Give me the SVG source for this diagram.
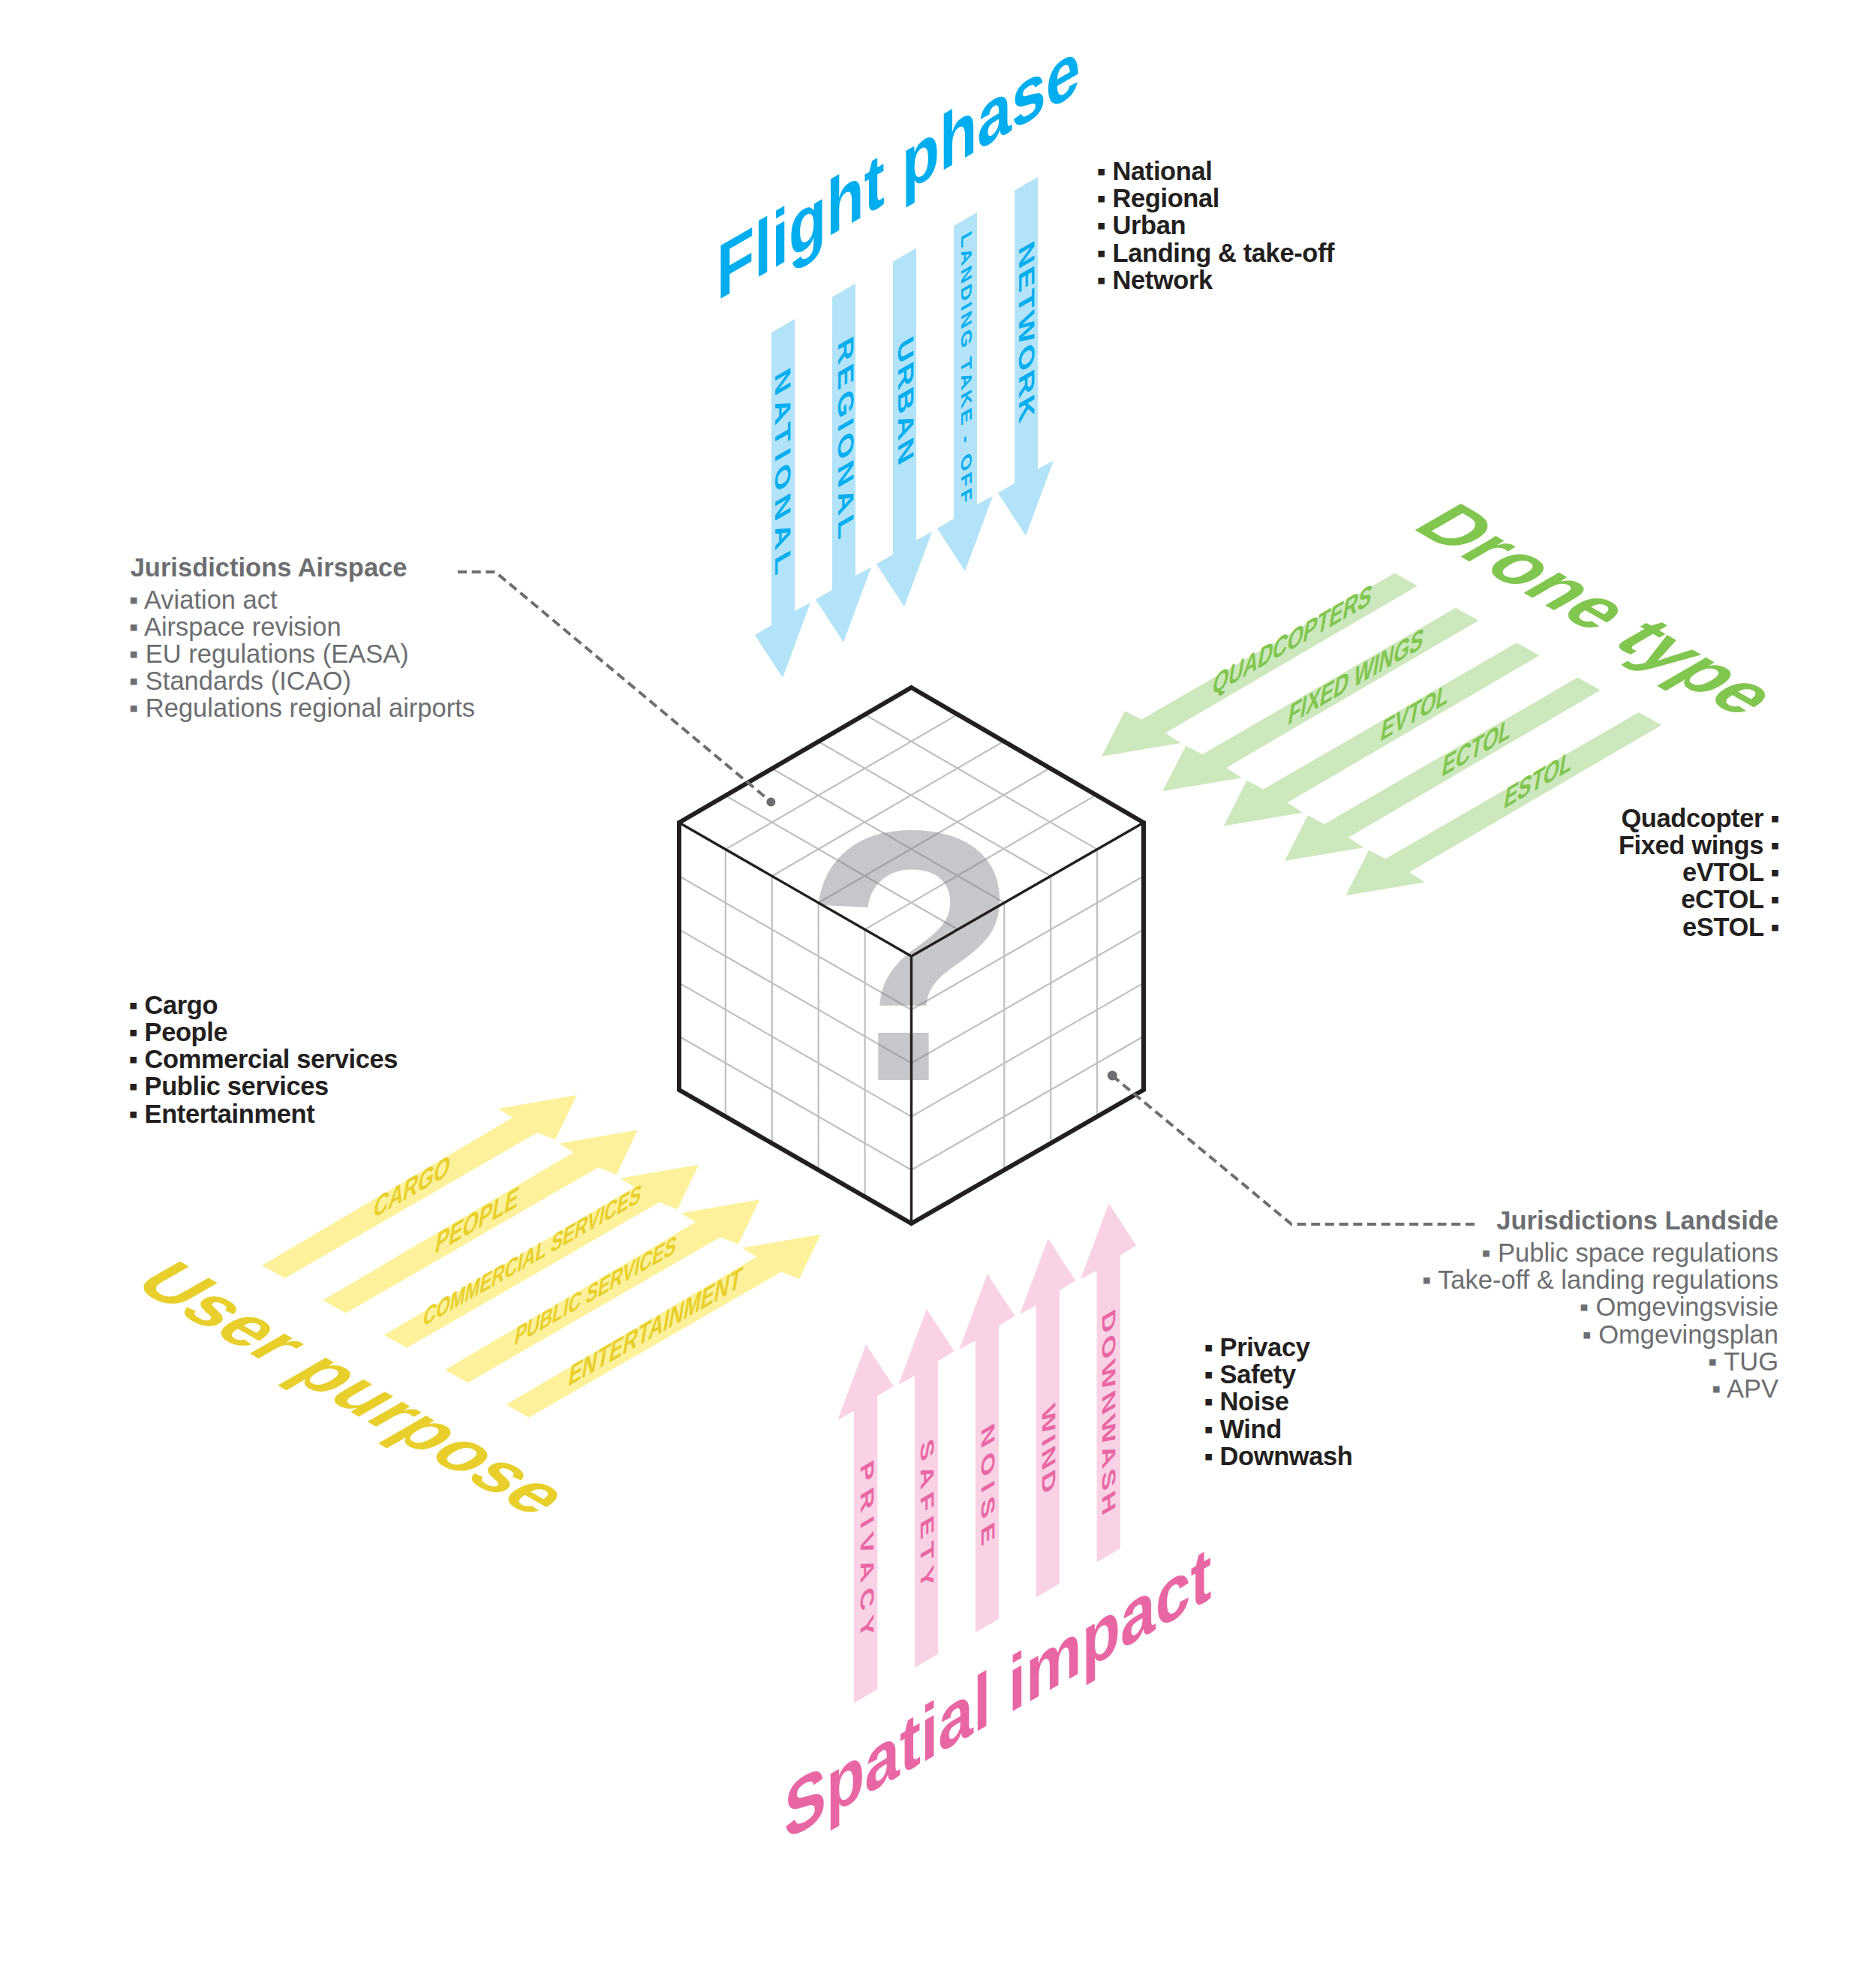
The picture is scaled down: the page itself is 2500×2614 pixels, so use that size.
<svg xmlns="http://www.w3.org/2000/svg" xmlns:xlink="http://www.w3.org/1999/xlink" width="2500" height="2614" viewBox="0 0 2500 2614">
<style>
text{font-family:"Liberation Sans",Arial,sans-serif}
.title{font-size:100px;font-weight:700}
.lbl{font-size:42px;font-weight:700}
.lblS{font-size:28px;font-weight:700}
.lblP{font-size:38px;font-weight:700}
.lblF{font-size:32px;font-weight:700}
.lblY{font-size:28px;font-weight:700}
.blue{fill:#00aeef}.green{fill:#80c64f}.yellow{fill:#e8cf2c}.pink{fill:#e966a5}
.aBlue{fill:#b3e3f8}.aGreen{fill:#cde8bd}.aYellow{fill:#fdf29b}.aPink{fill:#f9d2e6}
.li{font-size:34.5px;font-weight:700;fill:#231f20;letter-spacing:-.4px}
.gh{font-size:34.5px;font-weight:700;fill:#6d6e71}
.gi{font-size:34.5px;fill:#6d6e71}
.end{text-anchor:end}
.grid{stroke:#808285;stroke-opacity:.5;stroke-width:2.2;fill:none}
.outer{stroke:#231f20;stroke-width:6;fill:none;stroke-linejoin:miter}
.inner{stroke:#231f20;stroke-width:3.4;fill:none}
.lead{stroke:#6d6e71;stroke-width:4;fill:none;stroke-dasharray:12 6.7}
.dot{fill:#6d6e71}
</style>
<defs>
<polygon id="arB" points="1028,443 1059,425 1059,814 1080,803 1043,903 1006,846 1028,833"/>
<polygon id="arG" points="1858.6,763.4 1889,780.4 1553,976.5 1573.5,990 1468,1007.7 1499,947 1521,958.7"/>
<polygon id="arY" points="349,1686 683,1489 664,1477 768.6,1459 740,1518.5 716,1509 379.6,1703"/>
<polygon id="arP" points="1138,2269 1138,1880 1116.4,1891.7 1154,1791 1190.7,1847 1169.3,1860 1169.3,2250.5"/>
</defs>
<rect width="2500" height="2614" fill="#fff"/>

<g id="cube">
<text x="1214" y="1439" text-anchor="middle" font-size="477" font-weight="700" fill="#c5c7ca">?</text>
<path class="grid" d="M1152.6,952L1462.1,1131.6M1090.7,988L1400.2,1167.2M1028.8,1024L1338.3,1202.8M966.9,1060L1276.4,1238.4M1276.4,951.6L966.9,1131.6M1338.3,987.2L1028.8,1167.2M1400.2,1022.8L1090.7,1202.8M1462.1,1058.4L1152.6,1238.4"/>
<path class="grid" d="M966.9,1131.6V1487.6M1028.8,1167.2V1523.2M1090.7,1202.8V1558.8M1152.6,1238.4V1594.4M905,1167.2L1214.5,1345.2M905,1238.4L1214.5,1416.4M905,1309.6L1214.5,1487.6M905,1380.8L1214.5,1558.8"/>
<path class="grid" d="M1338.3,1202.8V1558.8M1400.2,1167.2V1523.2M1462.1,1131.6V1487.6M1524,1167.2L1214.5,1345.2M1524,1238.4L1214.5,1416.4M1524,1309.6L1214.5,1487.6M1524,1380.8L1214.5,1558.8"/>
<path class="inner" d="M905,1096L1214.5,1274L1524,1096M1214.5,1274V1630"/>
<path class="outer" d="M1214.5,916L1524,1096V1452L1214.5,1630L905,1452V1096Z"/>
</g>

<g id="connectors">
<path class="lead" d="M610,762H660L1027,1068"/>
<circle class="dot" cx="1027.4" cy="1068.6" r="6"/>
<path class="lead" d="M1482,1433L1721,1631H1965"/>
<circle class="dot" cx="1482.3" cy="1433" r="6.5"/>
</g>

<g id="flight-phase">
<text class="title blue" transform="matrix(.823,-.475,0,1.03,955,401)">Flight phase</text>
<g id="arrow-national"><use href="#arB" class="aBlue"/><text class="lbl blue" transform="matrix(0,1,-.7,.4,1033,499)" textLength="269">NATIONAL</text></g>
<g id="arrow-regional"><use href="#arB" class="aBlue" transform="translate(81,-47.3)"/><text class="lbl blue" transform="matrix(0,1,-.7,.4,1116.5,457)" textLength="263">REGIONAL</text></g>
<g id="arrow-urban"><use href="#arB" class="aBlue" transform="translate(162,-94.6)"/><text class="lbl blue" transform="matrix(0,1,-.7,.4,1197,457)" textLength="165">URBAN</text></g>
<g id="arrow-landing"><use href="#arB" class="aBlue" transform="translate(243,-141.9)"/><text class="lblS blue" transform="matrix(0,1,-.71,.41,1281,314)" textLength="359">LANDING TAKE - OFF</text></g>
<g id="arrow-network"><use href="#arB" class="aBlue" transform="translate(324,-189.2)"/><text class="lbl blue" transform="matrix(0,1,-.7,.4,1358,330)" textLength="235">NETWORK</text></g>
<g id="list-flight">
<text class="li" x="1461.5" y="240">▪ National</text>
<text class="li" x="1461.5" y="276">▪ Regional</text>
<text class="li" x="1461.5" y="312">▪ Urban</text>
<text class="li" x="1461.5" y="348.5">▪ Landing &amp; take-off</text>
<text class="li" x="1461.5" y="384.5">▪ Network</text>
</g>
</g>

<g id="drone-type">
<text class="title green" transform="matrix(.84,.485,-.889,.513,1880,703)">Drone type</text>
<g id="arrow-quadcopters"><use href="#arG" class="aGreen"/><text class="lblF green" transform="matrix(.85,-.49,-.21,1.25,1614.3,926.7)">QUADCOPTERS</text></g>
<g id="arrow-fixed"><use href="#arG" class="aGreen" transform="translate(81.3,46.4)"/><text class="lblF green" transform="matrix(.85,-.49,-.21,1.25,1715,966.7)">FIXED WINGS</text></g>
<g id="arrow-evtol"><use href="#arG" class="aGreen" transform="translate(162.6,92.8)"/><text class="lblF green" transform="matrix(.85,-.49,-.21,1.25,1838.3,988.3)">EVTOL</text></g>
<g id="arrow-ectol"><use href="#arG" class="aGreen" transform="translate(243.9,139.2)"/><text class="lblF green" transform="matrix(.85,-.49,-.21,1.25,1920,1035.5)">ECTOL</text></g>
<g id="arrow-estol"><use href="#arG" class="aGreen" transform="translate(325.2,185.6)"/><text class="lblF green" transform="matrix(.85,-.49,-.21,1.25,2002.7,1078)">ESTOL</text></g>
<g id="list-drone">
<text class="li end" x="2371" y="1101.7">Quadcopter ▪</text>
<text class="li end" x="2371" y="1137.7">Fixed wings ▪</text>
<text class="li end" x="2371" y="1174">eVTOL ▪</text>
<text class="li end" x="2371" y="1210">eCTOL ▪</text>
<text class="li end" x="2371" y="1246.5">eSTOL ▪</text>
</g>
</g>

<g id="user-purpose">
<text class="title yellow" transform="matrix(.83,.48,-.87,.5,175,1712)">User purpose</text>
<g id="arrow-cargo"><use href="#arY" class="aYellow"/><text class="lblF yellow" transform="matrix(.85,-.49,-.21,1.25,496.3,1623.7)">CARGO</text></g>
<g id="arrow-people"><use href="#arY" class="aYellow" transform="translate(81.3,46.4)"/><text class="lblF yellow" transform="matrix(.85,-.49,-.21,1.25,578.6,1670.8)">PEOPLE</text></g>
<g id="arrow-commercial"><use href="#arY" class="aYellow" transform="translate(162.6,92.8)"/><text class="lblY yellow" transform="matrix(.85,-.49,-.21,1.25,562.6,1768)">COMMERCIAL SERVICES</text></g>
<g id="arrow-public"><use href="#arY" class="aYellow" transform="translate(243.9,139.2)"/><text class="lblY yellow" transform="matrix(.85,-.49,-.21,1.25,684.4,1793)">PUBLIC SERVICES</text></g>
<g id="arrow-entertainment"><use href="#arY" class="aYellow" transform="translate(325.2,185.6)"/><text class="lblF yellow" transform="matrix(.85,-.49,-.21,1.25,755.9,1847.6)">ENTERTAINMENT</text></g>
<g id="list-user">
<text class="li" x="171.5" y="1350.7">▪ Cargo</text>
<text class="li" x="171.5" y="1387">▪ People</text>
<text class="li" x="171.5" y="1423">▪ Commercial services</text>
<text class="li" x="171.5" y="1459.3">▪ Public services</text>
<text class="li" x="171.5" y="1495.5">▪ Entertainment</text>
</g>
</g>

<g id="spatial-impact">
<text class="title pink" transform="matrix(.84,-.478,0,1.03,1045,2453)">Spatial impact</text>
<g id="arrow-privacy"><use href="#arP" class="aPink"/><text class="lblP pink" transform="matrix(0,1,-.66,.38,1147,1953)" textLength="232">PRIVACY</text></g>
<g id="arrow-safety"><use href="#arP" class="aPink" transform="translate(80.9,-46.9)"/><text class="lblP pink" transform="matrix(0,1,-.66,.38,1227,1924)" textLength="195">SAFETY</text></g>
<g id="arrow-noise"><use href="#arP" class="aPink" transform="translate(161.8,-93.8)"/><text class="lblP pink" transform="matrix(0,1,-.66,.38,1307.5,1904)" textLength="157">NOISE</text></g>
<g id="arrow-wind"><use href="#arP" class="aPink" transform="translate(242.7,-140.7)"/><text class="lblP pink" transform="matrix(0,1,-.66,.38,1389,1878)" textLength="115">WIND</text></g>
<g id="arrow-downwash"><use href="#arP" class="aPink" transform="translate(323.6,-187.6)"/><text class="lblP pink" transform="matrix(0,1,-.66,.38,1469,1752)" textLength="269">DOWNWASH</text></g>
<g id="list-spatial">
<text class="li" x="1604.5" y="1806.7">▪ Privacy</text>
<text class="li" x="1604.5" y="1843">▪ Safety</text>
<text class="li" x="1604.5" y="1879.3">▪ Noise</text>
<text class="li" x="1604.5" y="1915.5">▪ Wind</text>
<text class="li" x="1604.5" y="1951.7">▪ Downwash</text>
</g>
</g>

<g id="jurisdictions-airspace">
<text class="gh" x="173.7" y="768.3">Jurisdictions Airspace</text>
<text class="gi" x="172" y="810.7">▪ Aviation act</text>
<text class="gi" x="172" y="846.7">▪ Airspace revision</text>
<text class="gi" x="172" y="882.7">▪ EU regulations (EASA)</text>
<text class="gi" x="172" y="919">▪ Standards (ICAO)</text>
<text class="gi" x="172" y="955">▪ Regulations regional airports</text>
</g>

<g id="jurisdictions-landside">
<text class="gh end" x="2370" y="1638.3">Jurisdictions Landside</text>
<text class="gi end" x="2370" y="1681.3">▪ Public space regulations</text>
<text class="gi end" x="2370" y="1717.3">▪ Take-off &amp; landing regulations</text>
<text class="gi end" x="2370" y="1753.3">▪ Omgevingsvisie</text>
<text class="gi end" x="2370" y="1790">▪ Omgevingsplan</text>
<text class="gi end" x="2370" y="1825.7">▪ TUG</text>
<text class="gi end" x="2370" y="1861.7">▪ APV</text>
</g>
</svg>
